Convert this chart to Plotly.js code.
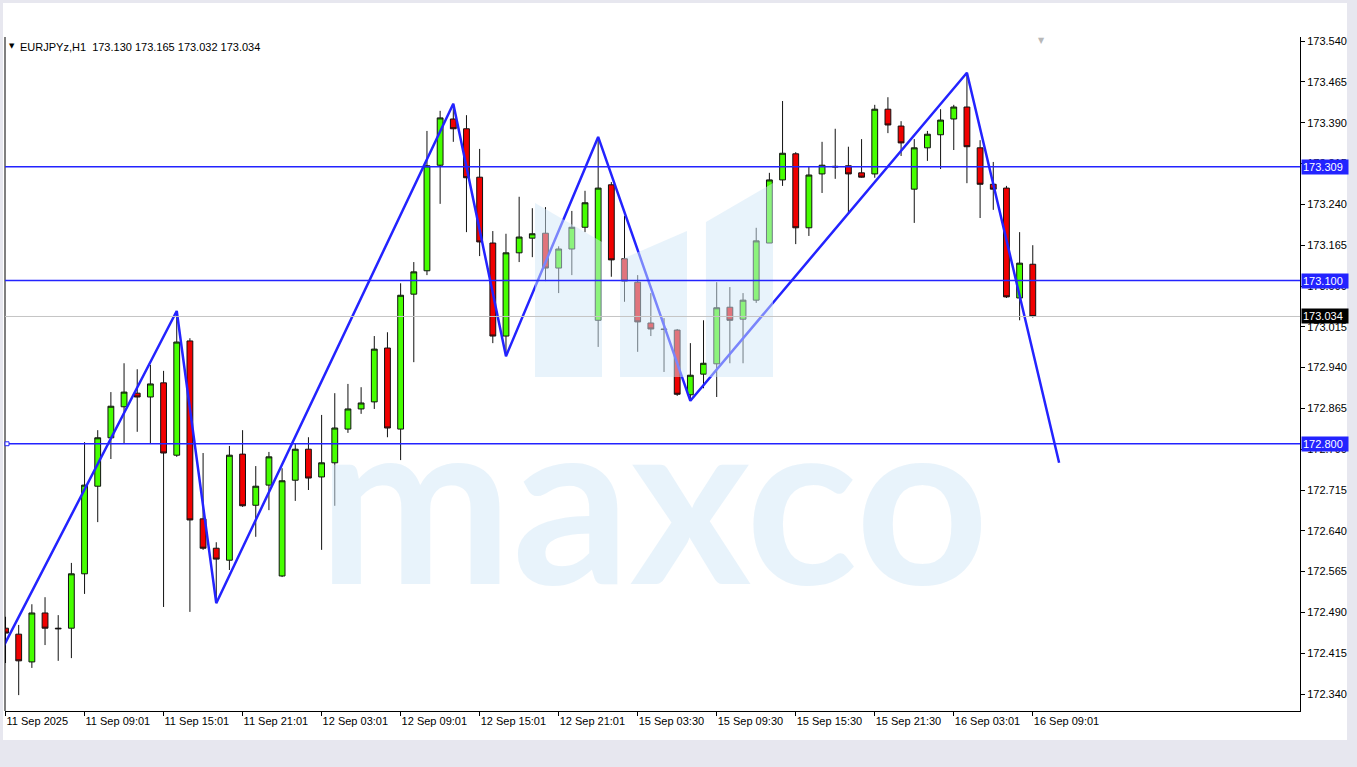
<!DOCTYPE html>
<html>
<head>
<meta charset="utf-8">
<script src="https://cdn.plot.ly/plotly-3.0.1.min.js"></script>
<style>
  html, body { margin: 0; padding: 0; background: #ffffff; }
  #chart { width: 1357px; height: 767px; }
</style>
</head>
<body>
<div id="chart"></div>
<script>
// ---- data (EURJPYz, H1) ----
const symbolName = 'EURJPYz,H1';
const openP = [
  172.461, 172.450, 172.399, 172.489, 172.461, 172.461, 172.561, 172.722, 172.811, 172.868,
  172.893, 172.886, 172.912, 172.779, 172.989, 172.662, 172.608, 172.586, 172.781, 172.687,
  172.724, 172.557, 172.733, 172.790, 172.739, 172.765, 172.827, 172.864, 172.877, 172.976,
  172.827, 173.075, 173.118, 173.312, 173.397, 173.379, 173.290, 173.169, 172.998, 173.151,
  173.178, 173.187, 173.123, 173.158, 173.198, 173.027, 173.276, 173.140, 173.097, 173.022,
  173.011, 173.009, 172.890, 172.928, 172.947, 173.051, 173.029, 173.064, 173.169, 173.285,
  173.333, 173.197, 173.296, 173.310, 173.311, 173.298, 173.296, 173.415, 173.384, 173.268,
  173.344, 173.368, 173.397, 173.419, 173.344, 173.277, 173.270, 173.068, 173.130
];
const highP = [
  172.482, 172.467, 172.505, 172.518, 172.485, 172.581, 172.803, 172.825, 172.895, 172.948,
  172.937, 172.945, 172.934, 173.044, 172.994, 172.783, 172.619, 172.796, 172.825, 172.759,
  172.785, 172.755, 172.801, 172.812, 172.853, 172.893, 172.910, 172.904, 172.998, 173.005,
  173.095, 173.134, 173.375, 173.412, 173.425, 173.404, 173.342, 173.191, 173.186, 173.254,
  173.233, 173.235, 173.163, 173.228, 173.265, 173.364, 173.281, 173.219, 173.110, 173.077,
  173.031, 173.011, 172.985, 173.027, 173.097, 173.088, 173.077, 173.197, 173.298, 173.430,
  173.336, 173.309, 173.355, 173.379, 173.346, 173.360, 173.423, 173.437, 173.393, 173.360,
  173.375, 173.415, 173.423, 173.482, 173.358, 173.318, 173.274, 173.189, 173.165
];
const lowP = [
  172.397, 172.338, 172.388, 172.430, 172.401, 172.406, 172.524, 172.656, 172.772, 172.801,
  172.822, 172.801, 172.500, 172.776, 172.491, 172.605, 172.507, 172.568, 172.684, 172.629,
  172.678, 172.555, 172.695, 172.715, 172.605, 172.686, 172.820, 172.855, 172.864, 172.812,
  172.770, 172.950, 173.110, 173.241, 173.355, 173.189, 173.145, 172.985, 172.961, 173.134,
  173.143, 173.099, 173.077, 173.110, 173.189, 172.978, 173.107, 173.061, 172.969, 172.998,
  172.932, 172.888, 172.879, 172.902, 172.886, 172.948, 172.948, 173.059, 173.169, 173.274,
  173.167, 173.182, 173.261, 173.287, 173.224, 173.289, 173.289, 173.371, 173.329, 173.206,
  173.320, 173.305, 173.340, 173.279, 173.215, 173.230, 173.068, 173.027, 173.032
];
const closeP = [
  172.452, 172.401, 172.489, 172.461, 172.460, 172.561, 172.724, 172.811, 172.869, 172.895,
  172.886, 172.910, 172.783, 172.987, 172.660, 172.608, 172.588, 172.779, 172.686, 172.722,
  172.776, 172.732, 172.790, 172.737, 172.765, 172.829, 172.864, 172.875, 172.974, 172.829,
  173.073, 173.116, 173.311, 173.399, 173.379, 173.289, 173.171, 172.998, 173.151, 173.180,
  173.186, 173.123, 173.158, 173.198, 173.243, 173.270, 173.138, 173.099, 173.024, 173.011,
  173.010, 172.891, 172.926, 172.948, 173.050, 173.027, 173.064, 173.173, 173.285, 173.334,
  173.197, 173.294, 173.312, 173.309, 173.296, 173.290, 173.415, 173.386, 173.353, 173.344,
  173.369, 173.395, 173.419, 173.346, 173.277, 173.268, 173.070, 173.132, 173.034
];
const tickPos = [0, 6, 12, 18, 24, 30, 36, 42, 48, 54, 60, 66, 72, 78];
const tickLabels = [
  '11 Sep 2025', '11 Sep 09:01', '11 Sep 15:01', '11 Sep 21:01', '12 Sep 03:01',
  '12 Sep 09:01', '12 Sep 15:01', '12 Sep 21:01', '15 Sep 03:30', '15 Sep 09:30',
  '15 Sep 15:30', '15 Sep 21:30', '16 Sep 03:01', '16 Sep 09:01'
];
const zigzagBar = [-1, 13, 16, 34, 38, 45, 52, 73, 80];
const zigzagPrice = [172.388, 173.044, 172.507, 173.425, 172.961, 173.364, 172.879, 173.482, 172.765];
const levelPrices = [173.309, 173.100, 172.800];
const lastPrice = 173.034;
const headerOHLC = ['173.130', '173.165', '173.032', '173.034'];

// ---- styling ----
const GREEN = '#46ff00';
const RED = '#f00000';
const BLUE = '#2323ff';
const FONT = 'Liberation Sans, Arial, sans-serif';

// pixel helpers for decorations (plot area: x 5..1300, y 37..711)
const PL = 5, PW = 1295, PT = 37, PH = 674;
const px = v => (v - PL) / PW;
const py = v => (PT + PH - v) / PH;

const traces = [
  {
    type: 'candlestick',
    open: openP, high: highP, low: lowP, close: closeP,
    increasing: { fillcolor: GREEN, line: { color: '#111', width: 1 } },
    decreasing: { fillcolor: RED, line: { color: '#111', width: 1 } },
    whiskerwidth: 0,
    hoverinfo: 'skip'
  },
  {
    type: 'scatter', mode: 'lines',
    x: zigzagBar, y: zigzagPrice,
    line: { color: BLUE, width: 2.5 },
    hoverinfo: 'skip'
  }
];

const wm = 'rgba(209,231,247,0.5)';
function poly(pts) {
  return 'M ' + pts.map(p => px(p[0]).toFixed(5) + ' ' + py(p[1]).toFixed(5)).join(' L ') + ' Z';
}
const shapes = [
  // outer white panel
  { type: 'rect', xref: 'paper', yref: 'paper', x0: px(3), x1: px(1347), y0: py(740), y1: py(3),
    fillcolor: '#ffffff', line: { width: 0 }, layer: 'below' },
  // watermark logo
  { type: 'path', xref: 'paper', yref: 'paper', path: poly([[535,203],[602,242],[602,377],[535,377]]),
    fillcolor: wm, line: { width: 0 }, layer: 'above' },
  { type: 'path', xref: 'paper', yref: 'paper', path: poly([[620,260],[687,231],[687,377],[620,377]]),
    fillcolor: wm, line: { width: 0 }, layer: 'above' },
  { type: 'path', xref: 'paper', yref: 'paper', path: poly([[706,222],[773,183],[773,377],[706,377]]),
    fillcolor: wm, line: { width: 0 }, layer: 'above' },
  // left border
  { type: 'line', xref: 'paper', yref: 'paper', x0: 0, x1: 0, y0: 0, y1: 1,
    line: { color: '#000', width: 1 }, layer: 'above' },
  // last price line
  { type: 'line', xref: 'paper', yref: 'y', x0: 0, x1: 1, y0: lastPrice, y1: lastPrice,
    line: { color: '#c4c4c4', width: 1 }, layer: 'above' }
];
levelPrices.forEach(l => {
  shapes.push({ type: 'line', xref: 'paper', yref: 'y', x0: 0, x1: 1, y0: l, y1: l,
    line: { color: BLUE, width: 1.5 }, layer: 'above' });
});
// anchor square of the lowest horizontal line
shapes.push({ type: 'rect', xref: 'paper', yref: 'y', x0: px(5), x1: px(9),
  y0: levelPrices[2] - 0.0036, y1: levelPrices[2] + 0.0036,
  fillcolor: '#ffffff', line: { color: BLUE, width: 1 }, layer: 'above' });

const annotations = [
  { xref: 'paper', yref: 'paper', x: px(7), y: py(46), xanchor: 'left', yanchor: 'middle',
    text: '▼', showarrow: false, font: { family: 'DejaVu Sans', size: 7, color: '#000' } },
  { xref: 'paper', yref: 'paper', x: px(18), y: py(47), xanchor: 'left', yanchor: 'middle',
    text: symbolName + '\u00a0\u00a0' + headerOHLC.join(' '), showarrow: false,
    font: { family: FONT, size: 11, color: '#000' } },
  { xref: 'paper', yref: 'paper', x: px(1041), y: py(41), xanchor: 'center', yanchor: 'middle',
    text: '▼', showarrow: false, font: { family: 'DejaVu Sans', size: 8, color: '#b8b8b8' } },
  { xref: 'paper', yref: 'paper', x: px(653), y: py(494), xanchor: 'center', yanchor: 'middle',
    text: 'maxco', showarrow: false,
    font: { family: 'Lato, sans-serif', size: 232, weight: 700, color: wm } }
];
levelPrices.forEach(l => {
  annotations.push({ xref: 'paper', yref: 'y', x: 1, y: l, xanchor: 'left', yanchor: 'middle', xshift: 1,
    text: l.toFixed(3), showarrow: false, bgcolor: BLUE, borderpad: 1, width: 44, align: 'left',
    font: { family: FONT, size: 11, color: '#ffffff' } });
});
annotations.push({ xref: 'paper', yref: 'y', x: 1, y: lastPrice, xanchor: 'left', yanchor: 'middle', xshift: 1,
  text: lastPrice.toFixed(3), showarrow: false, bgcolor: '#000000', borderpad: 1, width: 44, align: 'left',
  font: { family: FONT, size: 11, color: '#ffffff' } });

const layout = {
  width: 1357, height: 767,
  margin: { l: 5, r: 57, t: 37, b: 56, pad: 0 },
  paper_bgcolor: '#e7e7ef',
  plot_bgcolor: '#ffffff',
  showlegend: false,
  hovermode: false,
  dragmode: false,
  boxgap: 0.37,
  xaxis: {
    range: [-0.04, 98.29],
    rangeslider: { visible: false },
    showgrid: false, zeroline: false,
    showline: true, linecolor: '#000', linewidth: 1,
    ticks: 'outside', ticklen: 4, tickcolor: '#000',
    tickvals: tickPos, ticktext: tickLabels,
    ticklabelposition: 'outside right',
    tickfont: { family: FONT, size: 11, color: '#000' },
    fixedrange: true
  },
  yaxis: {
    side: 'right',
    range: [172.3088, 173.5477],
    tick0: 172.34, dtick: 0.075, tickformat: '.3f',
    showgrid: false, zeroline: false,
    showline: true, linecolor: '#000', linewidth: 1,
    ticks: 'outside', ticklen: 4, tickcolor: '#000',
    tickfont: { family: FONT, size: 11, color: '#000' },
    fixedrange: true
  },
  shapes: shapes,
  annotations: annotations
};

Plotly.newPlot('chart', traces, layout, { displayModeBar: false, staticPlot: true });
</script>
</body>
</html>
